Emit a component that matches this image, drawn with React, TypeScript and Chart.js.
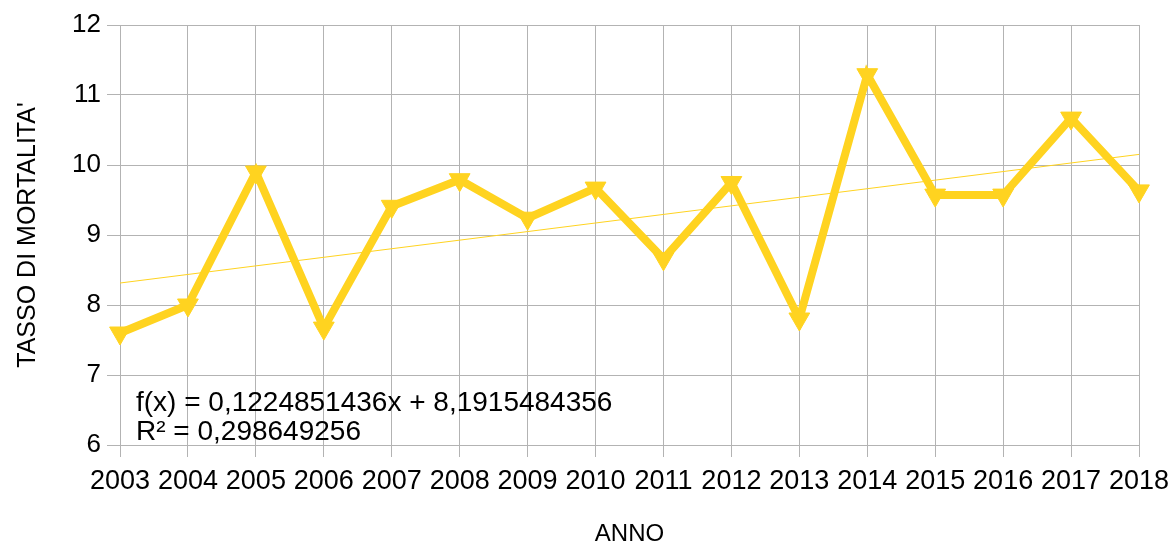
import React, { useEffect, useRef } from "react";
import { Chart, registerables } from "chart.js";

Chart.register(...registerables);

const YEARS = ["2003","2004","2005","2006","2007","2008","2009","2010","2011","2012","2013","2014","2015","2016","2017","2018"];
const MORTALITY = [7.6, 8.0, 9.9, 7.67, 9.41, 9.79, 9.24, 9.67, 8.66, 9.75, 7.8, 11.29, 9.57, 9.57, 10.67, 9.63];
const TREND_SLOPE = 0.1224851436;
const TREND_INTERCEPT = 8.1915484356;
const EQUATION_LINES = ["f(x) = 0,1224851436x + 8,1915484356", "R² = 0,298649256"];
const Y_TICKS = [6, 7, 8, 9, 10, 11, 12];

const FONT = "'Liberation Sans', Arial, sans-serif";
const YELLOW = "#ffd320";
const GRID = "#b3b3b3";

const equationPlugin = {
  id: "equation",
  afterDatasetsDraw(chart: any) {
    const { ctx, chartArea } = chart;
    ctx.save();
    ctx.fillStyle = "#000";
    ctx.font = `28px ${FONT}`;
    ctx.textBaseline = "middle";
    ctx.textAlign = "left";
    const x = chartArea.left + 16;
    ctx.fillText(EQUATION_LINES[0], x, chartArea.bottom - 42);
    ctx.fillText(EQUATION_LINES[1], x, chartArea.bottom - 13);
    ctx.restore();
  },
};

export default function App() {
  const ref = useRef<HTMLCanvasElement>(null);
  useEffect(() => {
    document.body.style.margin = "0";
    const trend = YEARS.map((_, i) => TREND_INTERCEPT + TREND_SLOPE * (i + 1));
    const chart = new Chart(ref.current!, {
      type: "line",
      data: {
        labels: YEARS,
        datasets: [
          {
            label: "Tasso",
            data: MORTALITY,
            borderColor: YELLOW,
            backgroundColor: YELLOW,
            borderWidth: 8,
            pointStyle: "triangle",
            pointRotation: 180,
            pointRadius: 12,
            pointBorderWidth: 1,
            pointBackgroundColor: YELLOW,
            pointBorderColor: YELLOW,
            tension: 0,
            order: 1,
          },
          {
            label: "Trend",
            data: trend,
            borderColor: YELLOW,
            borderWidth: 1,
            pointRadius: 0,
            tension: 0,
            order: 2,
          },
        ],
      },
      options: {
        animation: false,
        responsive: false,
        devicePixelRatio: 1,
        layout: { padding: { top: 25, right: 35, left: 0, bottom: 0 } },
        plugins: { legend: { display: false }, tooltip: { enabled: false } },
        scales: {
          x: {
            offset: false,
            afterFit: (axis: any) => {
              axis.height = 98;
              axis.paddingLeft = 0;
              axis.paddingRight = 0;
            },
            grid: { color: GRID, tickLength: 12, drawTicks: true },
            border: { color: GRID },
            ticks: {
              color: "#000",
              font: { family: FONT, size: 27 },
              autoSkip: false,
              maxRotation: 0,
              padding: 8,
            },
            title: {
              display: true,
              text: "ANNO",
              color: "#000",
              font: { family: FONT, size: 24 },
              padding: { top: 0, bottom: -6 },
            },
          },
          y: {
            min: 6,
            max: 12,
            afterBuildTicks: (axis: any) => {
              axis.ticks = Y_TICKS.map((v) => ({ value: v }));
            },
            afterFit: (axis: any) => {
              axis.width = 120;
              axis.paddingTop = 0;
              axis.paddingBottom = 0;
            },
            grid: { color: GRID, tickLength: 13 },
            border: { color: GRID },
            ticks: {
              color: "#000",
              font: { family: FONT, size: 26 },
              padding: 6,
            },
            title: {
              display: true,
              text: "TASSO DI MORTALITA'",
              color: "#000",
              font: { family: FONT, size: 25 },
              padding: { top: 13, bottom: 0 },
            },
          },
        },
      },
      plugins: [equationPlugin],
    });
    return () => chart.destroy();
  }, []);
  return (
    <div style={{ width: 1174, height: 543, background: "#fff" }}>
      <canvas ref={ref} width={1174} height={543} />
    </div>
  );
}
